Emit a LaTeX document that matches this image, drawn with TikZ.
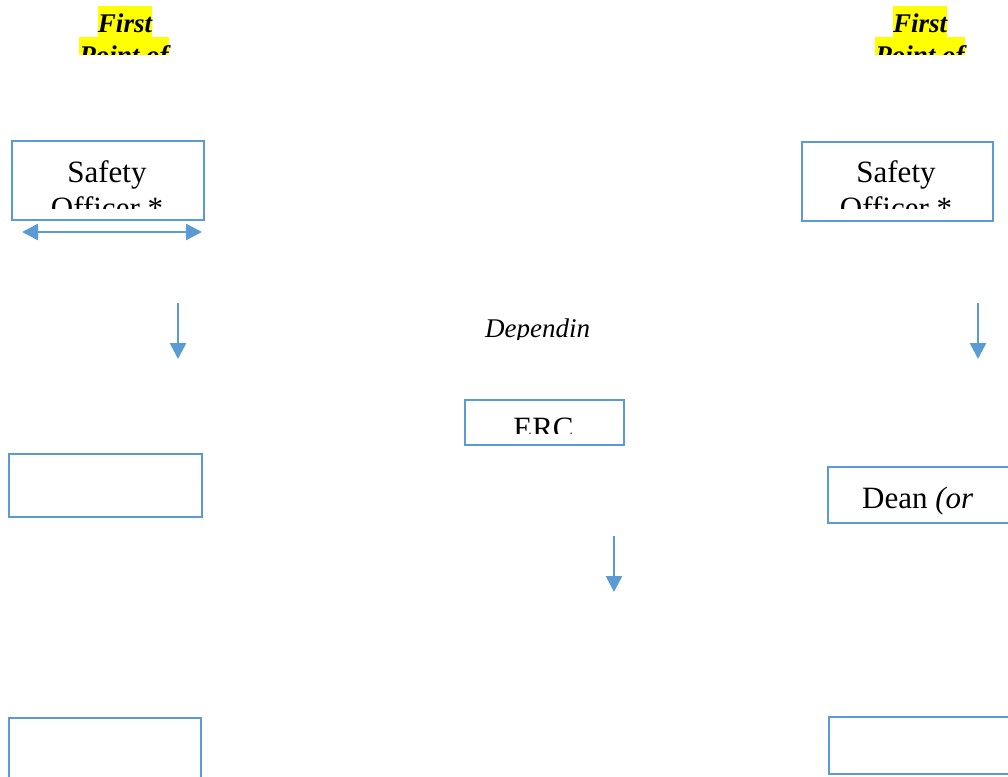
\documentclass[tikz,border=0pt]{standalone}
\usepackage{fontspec}
\setmainfont{Liberation Serif}
\usetikzlibrary{arrows.meta}
\definecolor{ob}{HTML}{5B9BD5}
\definecolor{hl}{HTML}{FFFF00}
\tikzset{
  box/.style={draw=ob,line width=1.8pt,inner sep=0pt,anchor=north west},
  arr/.style={draw=ob,line width=2.6pt,-{Triangle[length=16pt,width=16pt]}},
  darr/.style={draw=ob,line width=2.6pt,{Triangle[length=16pt,width=16pt]}-{Triangle[length=16pt,width=16pt]}},
  hlbox/.style={fill=hl,inner sep=0pt,anchor=base,text height=27pt,text depth=4pt,font=\fontsize{27}{31}\selectfont\bfseries\itshape},
  bigtxt/.style={inner sep=0pt,anchor=base,font=\fontsize{31}{36}\selectfont},
  ittxt/.style={inner sep=0pt,anchor=base west,font=\fontsize{27}{31}\selectfont\itshape}
}
\begin{document}
\begin{tikzpicture}[x=1pt,y=-1pt]
\clip (0,0) rectangle (1008,776);
\fill[white] (0,0) rectangle (1008,776);
% First point of (left and right)
\node[hlbox] (fpl1) at (125,33) {First};
\node[hlbox] (fpr1) at (920,33) {First};
\begin{scope}
  \clip (0,0) rectangle (1008,55);
  \node[hlbox] (fpl2) at (124,64) {Point of};
  \node[hlbox] (fpr2) at (920,64) {Point of};
\end{scope}
% Safety officer boxes
\node[box,minimum width=192pt,minimum height=79pt] (sol) at (11,140) {};
\node[box,minimum width=191pt,minimum height=79pt] (sor) at (801,141) {};
\node[bigtxt] (solt1) at (107,182) {Safety};
\node[bigtxt] (sort1) at (896,182) {Safety};
\begin{scope}
  \clip (0,0) rectangle (1008,208);
  \node[bigtxt] (solt2) at (107,218) {Officer *};
  \node[bigtxt] (sort2) at (896,218) {Officer *};
\end{scope}
% double arrow
\coordinate (dal) at (22,232);
\coordinate (dar) at (202,232);
\draw[darr] (dal) -- (dar);
% down arrows
\coordinate (a1s) at (178,303);
\coordinate (a1e) at (178,359);
\draw[arr] (a1s) -- (a1e);
\coordinate (a2s) at (978,303);
\coordinate (a2e) at (978,359);
\draw[arr] (a2s) -- (a2e);
\coordinate (a3s) at (614,536);
\coordinate (a3e) at (614,592);
\draw[arr] (a3s) -- (a3e);
% Dependin
\begin{scope}
  \clip (0,0) rectangle (1008,339);
  \node[ittxt] (dep) at (485,337) {Dependin};
\end{scope}
% ERC box
\node[box,minimum width=159pt,minimum height=45pt] (erc) at (464,399) {};
\begin{scope}
  \clip (0,0) rectangle (1008,433);
  \node[bigtxt] (erct) at (543.5,438.5) {ERC};
\end{scope}
% middle left box
\node[box,minimum width=193pt,minimum height=63pt] (ml) at (8,453) {};
% Dean box
\node[box,minimum width=200pt,minimum height=56pt] (dean) at (827,466) {};
\node[bigtxt,anchor=base west] (deant) at (862,508) {Dean \textit{(or}};
% bottom boxes
\node[box,minimum width=192pt,minimum height=80pt] (bl) at (8,717) {};
\node[box,minimum width=200pt,minimum height=57pt] (br) at (828,716) {};
\end{tikzpicture}
\end{document}
